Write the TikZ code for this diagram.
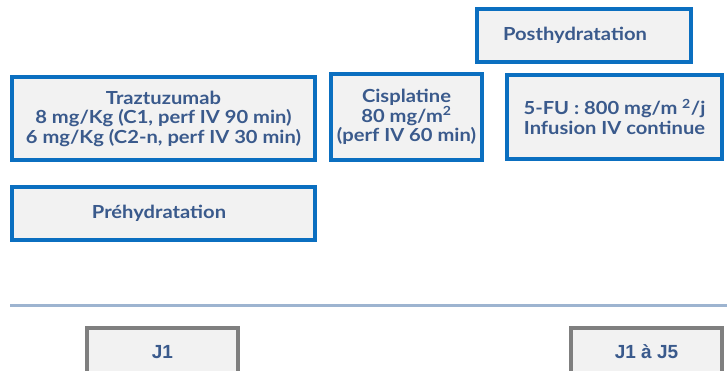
\documentclass[tikz,border=0pt]{standalone}
\usepackage{fontspec}
\setmainfont{Lato}[FakeStretch=1.12]
\newfontfamily\daysfont{Liberation Sans}
\definecolor{boxblue}{HTML}{0B6FC0}
\definecolor{boxfill}{HTML}{F2F2F2}
\definecolor{txtblue}{HTML}{3A5A8C}
\definecolor{axis}{HTML}{9DB4D0}
\definecolor{daygray}{HTML}{7F7F7F}
\begin{document}
\begin{tikzpicture}[x=1pt,y=-1pt,
  drug/.style={draw=boxblue,line width=4pt,fill=boxfill,text=txtblue,
    font=\bfseries\fontsize{18}{19.5}\selectfont,align=center,inner sep=0pt},
  daybox/.style={draw=daygray,line width=4pt,fill=boxfill,inner sep=0pt},
  daytext/.style={text=txtblue,font=\daysfont\bfseries\fontsize{19}{21}\selectfont,
    anchor=base,inner sep=0pt}]
\useasboundingbox (0,0) rectangle (727,371);
% treatment boxes
\node[drug,minimum width=303pt,minimum height=83pt] (traz) at (163.5,118.5)
  {Traztuzumab\\8 mg/Kg (C1, perf IV 90 min)\\6 mg/Kg (C2-n, perf IV 30 min)};
\node[drug,minimum width=303pt,minimum height=53pt] (pre) at (163.5,213.5)
  {Préhydratation\hspace*{9pt}};
\node[drug,minimum width=151pt,minimum height=86pt] (cis) at (406.5,117)
  {Cisplatine\\80 mg/m\textsuperscript{2}\\(perf IV 60 min)};
\node[drug,minimum width=215pt,minimum height=84pt] (fu) at (614.5,117)
  {5-FU : 800 mg/m \textsuperscript{2}/j\\Infusion IV continue};
\node[drug,minimum width=214pt,minimum height=53pt] (post) at (584,35.5)
  {Posthydratation\hspace*{18pt}};
% time axis
\coordinate (axL) at (10,305);
\coordinate (axR) at (727,305);
\draw[axis,line width=3pt] (axL) -- (axR);
% day boxes
\node[daybox,minimum width=151pt,minimum height=60pt] (j1) at (162.5,358) {};
\node[daytext] (j1t) at (162.5,358) {J1};
\node[daybox,minimum width=151pt,minimum height=60pt] (j5) at (646.5,358) {};
\node[daytext] (j5t) at (646.5,358) {J1 à J5};
\end{tikzpicture}
\end{document}
